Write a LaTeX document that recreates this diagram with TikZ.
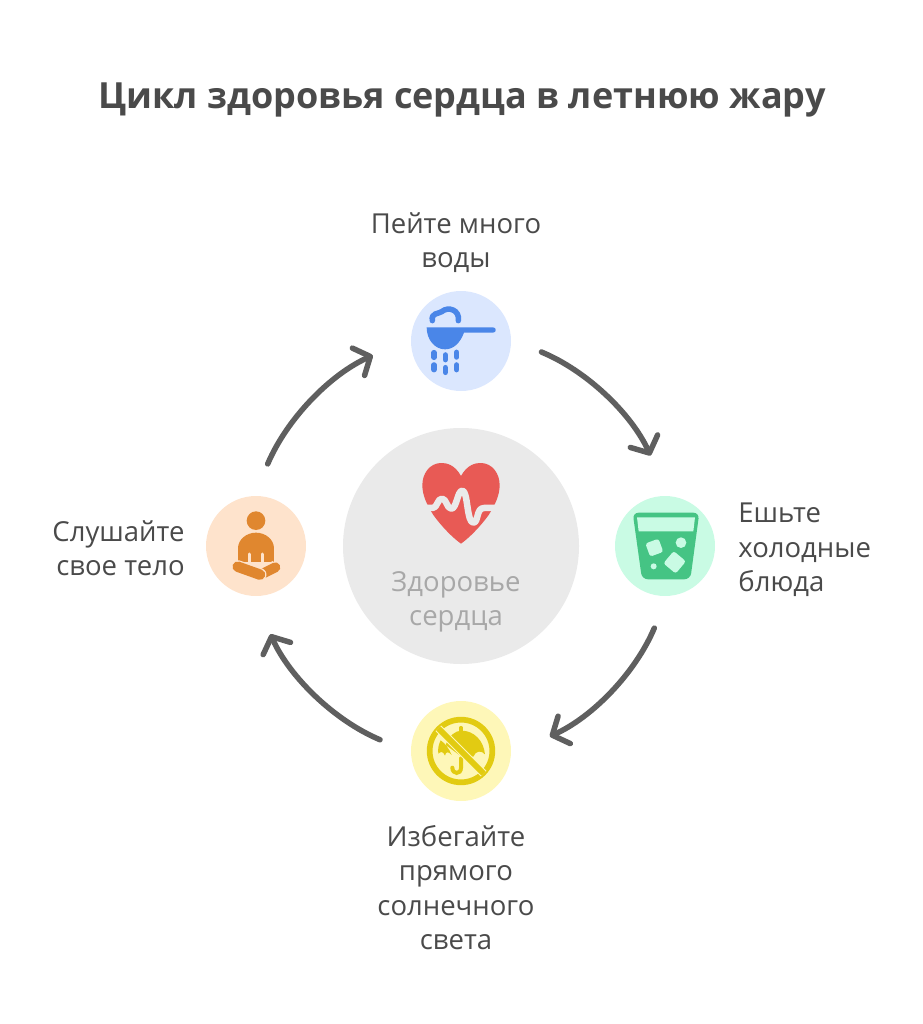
\documentclass[tikz,border=0pt]{standalone}
\usepackage{fontspec}
\setmainfont{Open Sans}
\usetikzlibrary{calc,positioning,arrows.meta}

\definecolor{inkgray}{HTML}{4A4A4A}
\definecolor{arrowgray}{HTML}{5F5F5F}
\definecolor{coregray}{HTML}{EAEAEA}
\definecolor{coretext}{HTML}{A8A8A8}
\definecolor{heartred}{HTML}{E85A55}
\definecolor{waterbg}{HTML}{DBE7FE}
\definecolor{waterfg}{HTML}{4A86E8}
\definecolor{foodbg}{HTML}{C9FBE4}
\definecolor{foodfg}{HTML}{45C484}
\definecolor{sunbg}{HTML}{FEF7B8}
\definecolor{sunfg}{HTML}{E2CB12}
\definecolor{bodybg}{HTML}{FEE3CC}
\definecolor{bodyfg}{HTML}{E0872F}

\tikzset{
    spot/.style={circle,inner sep=0,minimum size=100pt},
    caption/.style={text=inkgray,inner sep=0,font=\fontsize{27.5}{34.5}\selectfont},
    cycle arrow/.style={draw=arrowgray,line width=5.5pt,line cap=round,shorten >=3pt,
        -{Straight Barb[length=13pt,width=30pt,round]}},
    crop/.style 2 args={x=.3333pt,y=-.3333pt,xshift=#1pt,yshift=-#2pt},
}

\begin{document}
\begin{tikzpicture}[x=1pt,y=1pt]
    \useasboundingbox (0,0) rectangle (922,-1024);

    \node(title)[text=inkgray,inner sep=0,font=\fontsize{36}{40}\selectfont\bfseries] at (462,-100)
        {Цикл здоровья сердца в летнюю жару};

    \node(heart)[circle,fill=coregray,inner sep=0,minimum size=236pt] at (461,-546){};
    \node(water)[spot,fill=waterbg] at (461,-341){};
    \node(food)[spot,fill=foodbg] at (665,-546){};
    \node(sun)[spot,fill=sunbg] at (461,-751){};
    \node(body)[spot,fill=bodybg] at (256,-546){};

    \node(hearttext)[caption,text=coretext,align=center] at (456,-602)
        {Здоровье\\сердца};
    \node(watertext)[caption,align=center,above=18pt of water,xshift=-5pt]
        {Пейте много\\воды};
    \node(foodtext)[caption,align=left,right=23pt of food,yshift=-4pt]
        {Ешьте\\холодные\\блюда};
    \node(suntext)[caption,align=center,below=24pt of sun,xshift=-5pt]
        {Избегайте\\прямого\\солнечного\\света};
    \node(bodytext)[caption,align=right,left=21pt of body,yshift=-2pt]
        {Слушайте\\свое тело};

    % arrows round the middle
    \foreach \arc/\from/\to in {a/67.5/24.7,b/-23/-65.8,c/-112.7/-156,d/157/114}{
        \coordinate (s\arc) at ($(heart)+(\from:210)$);
        \coordinate (e\arc) at ($(heart)+(\to:210)$);
        \draw[cycle arrow] (s\arc) to[bend left=21.5,looseness=.82] (e\arc);
    }

    % heart
    \begin{scope}[crop={400}{450}]
        \fill[heartred] (183,78) .. controls (165,45) and (140,38) .. (122,39)
            .. controls (90,40) and (66,70) .. (67,108)
            .. controls (68,135) and (78,160) .. (100,195)
            .. controls (125,230) and (160,265) .. (183,281)
            .. controls (206,265) and (241,230) .. (266,195)
            .. controls (288,160) and (298,135) .. (299,108)
            .. controls (300,70) and (276,40) .. (244,39)
            .. controls (226,38) and (201,45) .. (183,78) -- cycle;
        \draw[coregray,line width=6.5pt,line join=round]
            (60,174) -- (98,174) .. controls (112,174) and (112,146) .. (126,146)
            .. controls (140,146) and (140,176) .. (154,176)
            .. controls (170,176) and (172,122) .. (187,122)
            .. controls (204,122) and (200,218) .. (220,218)
            .. controls (236,218) and (228,174) .. (252,174) -- (305,174);
    \end{scope}

    % water scoop
    \begin{scope}[crop={400}{280}]
        \fill[waterfg] (80,142) -- (185,142) -- (279,142)
            .. controls (290,142) and (290,158) .. (279,158) -- (192,158)
            .. controls (180,190) and (160,208) .. (135,208)
            .. controls (105,208) and (80,180) .. (80,142) -- cycle;
        \draw[waterfg,line width=5.5pt,line cap=round] (97,122)
            .. controls (93,98) and (115,102) .. (125,95)
            .. controls (145,78) and (180,90) .. (175,122);
        \foreach \dropx/\dropy in {102/225,136/232,170/224,102/262,136/270,170/262}
            \draw[waterfg,line width=5.5pt,line cap=round] (\dropx,\dropy-7) -- (\dropx,\dropy+7);
    \end{scope}

    % glass with ice
    \begin{scope}[crop={605}{490}]
        \fill[foodfg,rounded corners=6pt] (83,68) -- (283,68) -- (256,268) -- (111,268) -- cycle;
        \fill[foodbg] (96,82) -- (270,82) -- (265,124) -- (101,124) -- cycle;
        \fill[foodbg,rounded corners=2.5pt,rotate around={20:(148,173)}]
            (127,152) rectangle (169,194);
        \fill[foodbg,rounded corners=2.5pt,rotate around={-40:(209,217)}]
            (185,193) rectangle (233,241);
        \fill[foodbg] (228,158) circle[radius=16];
        \fill[foodbg] (146,229) circle[radius=9];
    \end{scope}

    % umbrella, crossed out
    \begin{scope}[crop={405}{695}]
        \draw[sunfg,line width=5.7pt] (168,168) circle[radius=94];
        \draw[sunfg,line width=3.5pt,line cap=round] (168,98) -- (168,110);
        \fill[sunfg] (122,150) .. controls (132,122) and (150,107) .. (170,107)
            .. controls (205,107) and (236,135) .. (240,178)
            .. controls (230,166) and (212,166) .. (205,185)
            -- (170,185) -- cycle;
        \fill[sunfg] (107,136) .. controls (120,145) and (132,160) .. (140,180)
            .. controls (130,168) and (122,170) .. (120,182)
            .. controls (115,170) and (108,168) .. (100,176)
            .. controls (98,160) and (101,148) .. (107,136) -- cycle;
        \draw[sunfg,line width=4pt,line cap=round] (168,190) -- (168,218)
            .. controls (168,240) and (142,238) .. (142,218);
        \draw[sunbg,line width=8pt] (100,100) -- (236,236);
        \draw[sunfg,line width=5.7pt] (100,100) -- (236,236);
    \end{scope}

    % sitting person
    \begin{scope}[crop={200}{490}]
        \fill[bodyfg] (168,92) circle[radius=28];
        \fill[bodyfg] (114,216) -- (114,175) .. controls (114,148) and (140,128) .. (168,128)
            .. controls (196,128) and (222,148) .. (222,175) -- (222,216) -- cycle;
        \draw[bodybg,line width=3pt,line cap=round] (148,192) -- (148,222);
        \draw[bodybg,line width=3pt,line cap=round] (188,192) -- (188,222);
        \draw[bodybg,line width=13pt] (190,250) -- (228,230);
        \draw[bodyfg,line width=10pt,line cap=round] (190,250) -- (226,232);
        \draw[bodybg,line width=13pt,line cap=round] (113,230) -- (180,254);
        \draw[bodyfg,line width=10.5pt,line cap=round] (113,230) -- (180,254);
    \end{scope}
\end{tikzpicture}
\end{document}
